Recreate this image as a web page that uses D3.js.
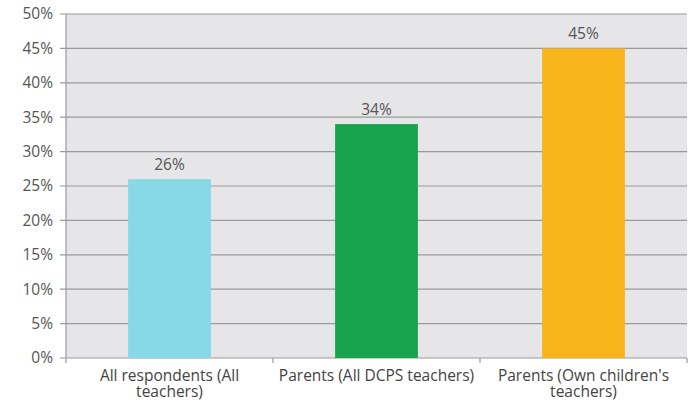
<!DOCTYPE html>
<html><head><meta charset="utf-8">
<script src="https://cdn.jsdelivr.net/npm/d3@7"></script>
<style>body{margin:0;background:#fff;} svg{display:block;}</style>
</head><body>
<script>
const categories = [["All respondents (All", "teachers)"], ["Parents (All DCPS teachers)"], ["Parents (Own children's", "teachers)"]];
const values = [26, 34, 45];
const colors = ["#88d9e8", "#17a44c", "#f7b51b"];
const yTicks = [0, 5, 10, 15, 20, 25, 30, 35, 40, 45, 50];

const W = 689, H = 402;
const m = {left: 66, right: 2, top: 14, bottom: 44};
const svg = d3.select("body").append("svg").attr("width", W).attr("height", H);
const x = d3.scaleBand().domain(d3.range(values.length)).range([m.left, W - m.right]).paddingInner(0.6).paddingOuter(0.3);
const y = d3.scaleLinear().domain([0, 50]).range([H - m.bottom, m.top]);
const font = "'Open Sans', sans-serif";

svg.append("rect").attr("x", m.left).attr("y", m.top).attr("width", W - m.right - m.left).attr("height", y(0) - m.top).attr("fill", "#e6e6e8");

svg.append("g").selectAll("line").data(yTicks).join("line")
  .attr("x1", m.left - 6).attr("x2", W - m.right).attr("y1", d => y(d)).attr("y2", d => y(d))
  .attr("stroke", "#9a9a9a").attr("stroke-width", 1.2);

svg.append("g").selectAll("text").data(yTicks).join("text")
  .attr("x", 53).attr("y", d => y(d)).attr("dy", "0.35em").attr("text-anchor", "end")
  .attr("font-family", font).attr("font-size", 15.5).attr("fill", "#555").text(d => d + "%");

svg.append("line").attr("x1", m.left).attr("x2", m.left).attr("y1", m.top).attr("y2", y(0)).attr("stroke", "#9a9a9a").attr("stroke-width", 1.2);

const step = x.step();
const bounds = d3.range(values.length + 1).map(i => m.left + i * step);
svg.append("g").selectAll("line").data(bounds).join("line")
  .attr("x1", d => d).attr("x2", d => d).attr("y1", y(0)).attr("y2", y(0) + 5)
  .attr("stroke", "#9a9a9a").attr("stroke-width", 1.2);

svg.append("g").selectAll("rect").data(values).join("rect")
  .attr("x", (d, i) => x(i)).attr("width", x.bandwidth())
  .attr("y", d => y(d)).attr("height", d => y(0) - y(d))
  .attr("fill", (d, i) => colors[i]);

svg.append("g").selectAll("text").data(values).join("text")
  .attr("x", (d, i) => x(i) + x.bandwidth() / 2).attr("y", d => y(d) - 9)
  .attr("text-anchor", "middle").attr("font-family", font).attr("font-size", 15.5).attr("fill", "#555")
  .text(d => d + "%");

const lab = svg.append("g").selectAll("text").data(categories).join("text")
  .attr("x", (d, i) => x(i) + x.bandwidth() / 2).attr("y", y(0) + 23)
  .attr("text-anchor", "middle").attr("font-family", font).attr("font-size", 15.5).attr("fill", "#444");
lab.each(function(d, i) {
  d3.select(this).selectAll("tspan").data(d).join("tspan")
    .attr("x", x(i) + x.bandwidth() / 2).attr("dy", (t, j) => j === 0 ? 0 : 16).text(t => t);
});
</script>
</body></html>
